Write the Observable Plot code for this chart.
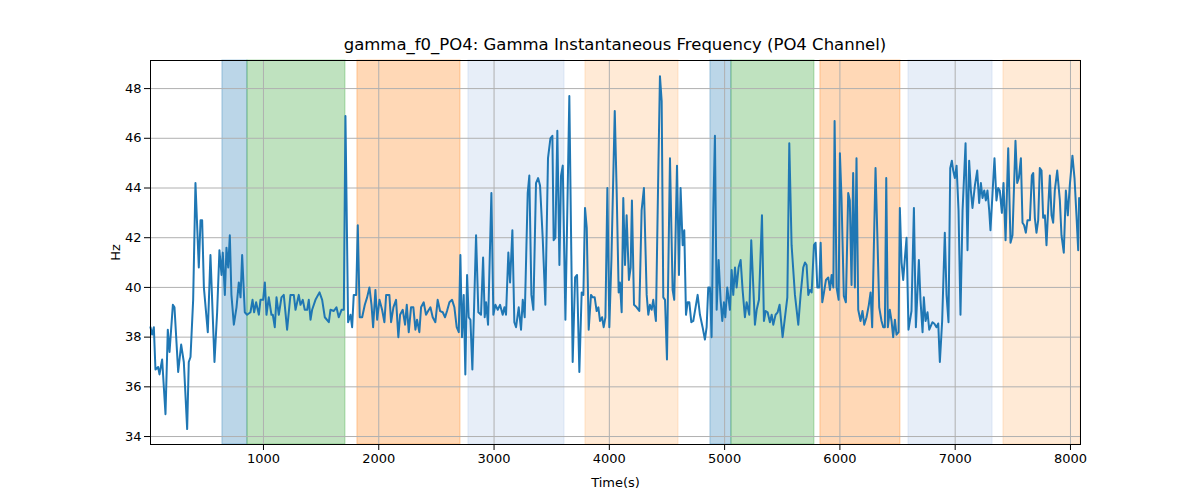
<!DOCTYPE html>
<html><head><meta charset="utf-8">
<script src="https://cdn.jsdelivr.net/npm/d3@7"></script>
<script src="https://cdn.jsdelivr.net/npm/@observablehq/plot@0.6"></script>
<style>
body{margin:0;background:#fff;font-family:"DejaVu Sans",sans-serif;}
#wrap{position:relative;width:1200px;height:500px;}
#title{position:absolute;top:35px;left:150px;width:930px;text-align:center;font-size:16.5px;color:#000;}
</style></head><body>
<div id="wrap"><div id="title">gamma_f0_PO4: Gamma Instantaneous Frequency (PO4 Channel)</div><div id="chart"></div></div>
<script>
const times = [20,34,49,63,86,98,121,150,170,185,214,228,260,286,309,338,352,367,390,410,439,454,468,483,517,540,575,598,618,636,647,665,679,694,708,722,743,766,786,801,815,838,858,887,905,919,936,960,974,997,1012,1026,1046,1069,1081,1098,1113,1133,1156,1176,1205,1234,1263,1278,1306,1321,1341,1358,1379,1393,1408,1422,1451,1486,1509,1532,1567,1581,1610,1633,1653,1677,1697,1711,1734,1755,1769,1783,1804,1818,1835,1856,1879,1899,1919,1937,1951,1971,1986,2006,2029,2049,2064,
2092,2107,2127,2150,2170,2185,2208,2228,2243,2260,2280,2300,2318,2332,2352,2367,2390,2410,2428,2448,2468,2491,2511,2532,2555,2575,2592,2613,2636,2656,2676,2694,2708,2722,2737,2751,2766,2780,2795,2812,2844,2864,2887,2905,2919,2931,2948,2977,2994,3012,3032,3052,3075,3090,3104,3124,3139,3159,3176,3191,3214,3234,3249,3266,3292,3306,3324,3341,3364,3382,3399,3422,3445,3468,3489,3506,3517,3532,3549,3567,3581,3596,3619,3653,3682,3703,3720,3740,3760,3775,3789,3804,3821,3841,3856,3873,3890,3905,3919,3937,3951,3966,3983,4000,4018,4047,4064,4081,
4092,4107,4121,4136,4150,4170,4185,4196,4214,4237,4260,4280,4300,4324,4338,4352,4367,4381,4404,4425,4439,4454,4468,4483,4500,4526,4549,4563,4587,4604,4618,4636,4650,4665,4679,4694,4711,4728,4748,4766,4786,4809,4829,4844,4858,4873,4887,4902,4916,4931,4948,4965,4980,4994,5006,5023,5046,5061,5075,5090,5104,5121,5139,5156,5176,5191,5214,5231,5249,5263,5278,5298,5324,5341,5356,5373,5393,5408,5422,5442,5460,5477,5503,5526,5544,5561,5581,5610,5639,5659,5682,5697,5711,5726,5740,5755,5775,5789,5804,5821,5833,5847,5862,5879,5899,5914,5928,5943,5954,5971,5989,
6000,6014,6034,6052,6072,6086,6101,6115,6130,6144,6159,6179,6196,6211,6231,6251,6266,6280,6309,6326,6341,6361,6376,6390,6402,6416,6433,6448,6462,6477,6491,6509,6520,6535,6549,6564,6578,6595,6621,6642,6659,6685,6699,6717,6728,6743,6760,6775,6803,6818,6838,6853,6867,6887,6910,6925,6942,6957,6971,6983,6997,7012,7029,7046,7064,7090,7107,7121,7136,7150,7171,7191,7208,7223,7237,7252,7266,7280,7295,7306,7324,7341,7358,7373,7387,7405,7419,7437,7460,7480,7497,7523,7538,7552,7570,7584,7598,7613,7627,7648,7665,7677,7691,7705,7720,7734,7749,7763,7778,7792,7807,7821,7836,7850,7864,7885,7908,7922,7942,7960,7977,7994,8017,8035,8052,8067,8075];
const freqs = [38.4,38.1,38.4,36.7,36.8,36.5,37.1,34.9,38.3,37.4,39.3,39.2,36.6,37.7,37.0,34.3,37.0,37.2,39.5,44.2,40.8,42.7,42.7,40.0,38.2,41.3,37.0,39.0,41.5,40.5,41.4,39.7,41.6,40.8,42.1,39.7,38.5,39.2,40.2,39.6,41.3,39.0,38.9,39.0,39.5,39.0,39.4,38.9,39.5,39.5,40.2,38.9,39.6,38.9,38.9,38.4,39.6,38.9,39.6,39.7,38.3,39.7,39.7,39.1,39.7,39.3,39.5,39.1,39.1,39.5,38.7,39.1,39.5,39.8,39.5,38.8,38.6,39.1,39.05,39.2,38.8,39.1,39.1,46.9,38.6,38.9,38.4,39.7,39.7,42.5,38.8,38.8,39.3,39.6,40.0,39.3,38.4,39.9,38.7,39.5,39.1,38.6,39.7,
39.7,38.6,39.2,39.5,38.0,38.9,39.1,38.5,39.3,38.2,39.2,39.2,38.3,38.7,38.2,39.2,39.4,38.9,39.05,39.2,38.8,38.6,39.5,39.05,39.0,38.8,39.05,39.4,39.5,39.2,38.4,38.2,41.3,38.0,39.7,36.5,40.5,38.8,38.7,36.7,42.1,39.0,38.9,41.2,38.8,39.4,38.5,43.8,38.9,39.3,39.1,39.3,38.9,39.2,38.9,41.4,40.2,42.3,38.6,38.4,39.2,38.3,39.5,38.8,43.8,44.5,39.7,39.1,44.2,44.4,44.1,42.0,39.3,45.2,46.0,46.1,41.9,42.0,46.3,40.9,44.5,44.9,38.7,47.7,37.0,40.4,40.5,36.6,39.8,39.7,43.2,42.4,38.3,39.7,39.6,39.6,39.05,39.2,38.65,38.8,38.4,38.8,44.0,38.4,41.1,47.1,43.8,39.8,
40.2,39.0,43.6,40.9,42.9,40.3,40.8,43.5,39.3,39.2,39.05,43.1,44.0,39.7,38.9,39.3,39.1,39.5,38.65,44.7,48.5,47.5,39.6,39.5,37.1,45.2,39.9,39.5,44.9,40.5,44.0,41.7,42.3,38.9,39.4,39.4,38.6,38.65,39.2,39.7,38.9,38.4,37.9,38.4,40.0,40.0,38.0,43.1,46.1,39.1,41.1,39.5,38.65,39.4,38.8,40.0,39.1,40.7,39.7,40.8,40.0,40.8,41.1,39.9,38.8,39.4,38.9,41.9,40.0,38.5,39.1,39.5,42.9,38.65,39.05,39.0,38.6,38.9,38.5,38.9,39.0,39.3,38.0,38.9,39.6,45.8,41.7,39.7,38.5,39.7,40.8,41.0,40.9,39.7,39.9,39.8,41.7,41.8,40.0,40.0,41.8,39.4,39.8,40.3,40.4,39.9,40.5,40.0,46.7,40.0,39.5,
45.4,43.6,39.66,39.4,43.8,43.5,40.1,44.6,40.0,45.2,39.1,38.65,39.05,38.5,38.8,39.3,39.8,38.4,44.8,41.9,39.2,38.65,38.4,38.4,44.4,38.4,39.1,38.65,38.0,38.7,38.1,38.2,43.2,41.0,40.3,41.2,42.0,38.3,39.05,43.2,38.4,41.1,39.5,38.2,39.6,38.65,39.0,38.3,38.6,38.55,38.4,38.55,37.0,38.65,42.2,39.7,38.6,44.8,45.1,44.7,44.4,44.9,43.1,38.9,43.1,45.8,41.5,45.1,43.9,43.2,44.1,44.7,43.4,44.2,43.6,43.9,43.5,43.9,43.1,42.3,43.8,45.2,43.5,44.0,43.9,43.0,44.2,41.9,45.6,41.8,42.1,45.9,44.2,44.4,45.2,42.6,42.5,42.2,42.7,42.7,44.5,44.6,42.8,42.2,42.7,44.8,44.7,42.8,42.9,41.7,43.2,44.5,42.9,42.6,43.9,44.7,43.5,42.1,41.4,43.9,42.9,44.1,45.3,44.4,42.9,41.5,43.6];
const spanStart = [644,861,1815,2778,3793,4877,5059,5831,6595,7419];
const spanEnd   = [861,1711,2709,3611,4600,5059,5779,6525,7324,8087];
const spanColor = ["#1f77b4","#2ca02c","#ff7f0e","#aec7e8","#ffbb78","#1f77b4","#2ca02c","#ff7f0e","#aec7e8","#ffbb78"];
const xTicks = [1000,2000,3000,4000,5000,6000,7000,8000];
const yTicks = [34,36,38,40,42,44,46,48];

const series = times.map((t,i)=>({t, f:freqs[i]}));
const spans = spanStart.map((s,i)=>({x1:s, x2:spanEnd[i], c:spanColor[i]}));

const chart = Plot.plot({
  width:1200, height:500,
  marginLeft:150, marginRight:120, marginTop:60, marginBottom:56,
  style:{fontFamily:"DejaVu Sans", fontSize:"13px", color:"#000", background:"#fff"},
  x:{domain:[20,8087], ticks:xTicks, tickFormat:d=>String(d), label:"Time(s)", labelAnchor:"center", labelArrow:"none", labelOffset:42, tickSize:5},
  y:{domain:[33.68,49.13], ticks:yTicks, tickFormat:d=>String(d), label:"Hz", labelAnchor:"center", labelArrow:"none", labelOffset:42, tickSize:5},
  marks:[
    Plot.rect(spans,{x1:"x1",x2:"x2",fill:"c",fillOpacity:0.3,stroke:"c",strokeOpacity:0.35}),
    Plot.gridX(xTicks,{stroke:"#b0b0b0",strokeOpacity:1,strokeWidth:1}),
    Plot.gridY(yTicks,{stroke:"#b0b0b0",strokeOpacity:1,strokeWidth:1}),
    Plot.line(series,{x:"t",y:"f",stroke:"#1f77b4",strokeWidth:2}),
    Plot.frame({stroke:"#000"}),
    Plot.axisX({ticks:xTicks,tickFormat:d=>String(d),label:"Time(s)",labelAnchor:"center",labelArrow:"none",labelOffset:42}),
    Plot.axisY({ticks:yTicks,tickFormat:d=>String(d),label:"Hz",labelAnchor:"center",labelArrow:"none",labelOffset:40})
  ]
});
document.getElementById("chart").appendChild(chart);
</script></body></html>
